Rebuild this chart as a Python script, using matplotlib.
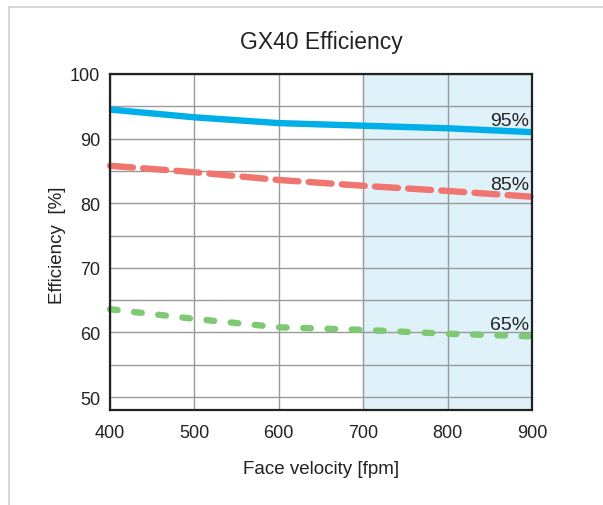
import matplotlib
matplotlib.use("Agg")
import matplotlib.pyplot as plt
from matplotlib.lines import Line2D

plt.rcParams['font.family'] = ['Liberation Sans', 'DejaVu Sans']

velocity = [400, 500, 600, 700, 800, 900]
eff95 = [94.5, 93.3, 92.4, 92.0, 91.6, 91.0]
eff85 = [85.8, 84.8, 83.6, 82.7, 81.9, 81.0]
eff65 = [63.6, 62.1, 60.8, 60.4, 59.8, 59.4]
series_labels = ["95%", "85%", "65%"]
title = "GX40 Efficiency"
xlabel = "Face velocity [fpm]"
ylabel = "Efficiency  [%]"
xticks = [400, 500, 600, 700, 800, 900]
yticks = [50, 60, 70, 80, 90, 100]

W, H = 603, 506
fig = plt.figure(figsize=(W / 100, H / 100), dpi=100)
ax = fig.add_axes([110 / W, 1 - 411 / H, (532 - 110) / W, (411 - 75) / H])

# outer frame (top and left)
fig.add_artist(Line2D([8.5 / W, 8.5 / W], [0, 1 - 8 / H], transform=fig.transFigure, color='#d0d0d0', lw=1.2))
fig.add_artist(Line2D([8.5 / W, 1], [1 - 8 / H, 1 - 8 / H], transform=fig.transFigure, color='#d0d0d0', lw=1.2))

ax.set_xlim(400, 900)
ax.set_ylim(48, 100)
ax.axvspan(700, 900, color='#dff1f9', zorder=0)

ax.set_xticks(xticks)
ax.set_yticks(yticks)
ax.set_yticks([55, 65, 75, 85, 95], minor=True)
ax.grid(True, which='both', color='#9a9a9a', lw=1.0, zorder=1)
ax.tick_params(which='both', length=0, labelsize=13, colors='#222222')
ax.tick_params(axis='y', pad=7)
ax.tick_params(axis='x', pad=10)
for s in ax.spines.values():
    s.set_color('#222222')
    s.set_linewidth(1.6)
    s.set_zorder(5)

ax.plot(velocity, eff95, color='#00aee8', lw=4.6, solid_capstyle='butt', zorder=3, clip_on=False)
ax.plot(velocity, eff85, color='#f07470', lw=4.6, dashes=(3.6, 1.6), dash_capstyle='round', zorder=3, clip_on=False)
ax.plot(velocity, eff65, color='#80c974', lw=4.6, dashes=(1.2, 2.6), dash_capstyle='round', zorder=3, clip_on=False)

for yv, lab in zip([eff95[-1], eff85[-1], eff65[-1]], series_labels):
    ax.annotate(lab, xy=(900, yv), xytext=(-2, 2.5), textcoords='offset points',
                ha='right', va='bottom', fontsize=14, color='#222222', zorder=4)

fig.text(0.5 * (110 + 532) / W, 1 - 42 / H, title, ha='center', va='center', fontsize=16.5, color='#222222')
fig.text(0.5 * (110 + 532) / W, 1 - 470 / H, xlabel, ha='center', va='center', fontsize=13.5, color='#222222')
fig.text(57 / W, 1 - 245 / H, ylabel, ha='center', va='center', rotation=90, fontsize=13.5, color='#222222')

fig.savefig("out.png", dpi=100, facecolor='white')
